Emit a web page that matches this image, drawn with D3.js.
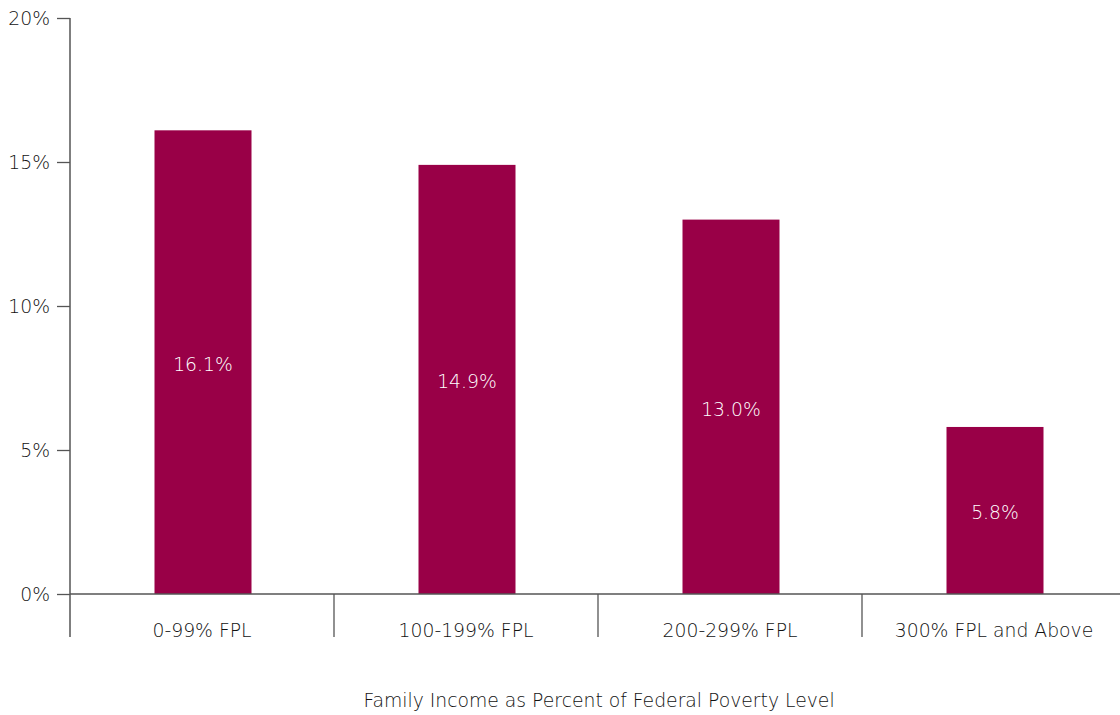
<!DOCTYPE html>
<html><head><meta charset="utf-8">
<script src="https://cdn.jsdelivr.net/npm/d3@7"></script>
<style>body{margin:0;background:#fff}text{font-family:"DejaVu Sans",sans-serif;font-weight:300}</style>
</head><body>
<svg id="c" width="1120" height="715"></svg>
<script>
const categories = ["0-99% FPL","100-199% FPL","200-299% FPL","300% FPL and Above"];
const values = [16.1, 14.9, 13.0, 5.8];
const valueLabels = ["16.1%","14.9%","13.0%","5.8%"];
const yTicks = [0,5,10,15,20];
const xTitle = "Family Income as Percent of Federal Poverty Level";

(function(){
const svg = d3.select("#c");
const mLeft = 70, mTop = 18, mBottom = 594, axisColor = "#555", textColor = "#111";
const x = d3.scaleBand().domain(categories).range([mLeft, mLeft + 264*4]).padding(0);
const y = d3.scaleLinear().domain([0,20]).range([mBottom, mTop]);
const barW = 97;
const fs = "18.8px";

svg.selectAll("rect.bar").data(values).enter().append("rect")
  .attr("x", (d,i) => x(categories[i]) + x.bandwidth()/2 - barW/2 + 1)
  .attr("width", barW)
  .attr("y", d => y(d))
  .attr("height", d => y(0) - y(d))
  .attr("fill", "#990047");

svg.selectAll("text.val").data(values).enter().append("text")
  .attr("x", (d,i) => x(categories[i]) + x.bandwidth()/2 + 1)
  .attr("y", d => (y(d) + y(0))/2 + 9)
  .attr("text-anchor","middle").attr("fill","#fff")
  .style("font-size",fs)
  .text((d,i) => valueLabels[i]);

const ya = svg.append("g").attr("transform",`translate(${mLeft},0)`)
  .call(d3.axisLeft(y).tickValues(yTicks).tickFormat(d => d + "%").tickSize(13).tickSizeOuter(0));
ya.select(".domain").remove();
ya.selectAll("line").attr("stroke", axisColor).attr("stroke-width",1.3);
ya.selectAll("text").attr("fill", textColor).style("font-size",fs).attr("dx","-4");
svg.append("line").attr("x1",mLeft).attr("x2",mLeft).attr("y1",mTop).attr("y2",637)
  .attr("stroke",axisColor).attr("stroke-width",1.5);

svg.append("line").attr("x1",mLeft).attr("x2",1120).attr("y1",mBottom).attr("y2",mBottom)
  .attr("stroke",axisColor).attr("stroke-width",1.5);
svg.selectAll("line.sep").data(categories.slice(1)).enter().append("line")
  .attr("x1", d => x(d)).attr("x2", d => x(d))
  .attr("y1", mBottom).attr("y2", 637)
  .attr("stroke", axisColor).attr("stroke-width",1.3);
svg.selectAll("text.cat").data(categories).enter().append("text")
  .attr("x", d => x(d) + x.bandwidth()/2)
  .attr("y", 637)
  .attr("text-anchor","middle").attr("fill",textColor)
  .style("font-size",fs)
  .text(d => d);

svg.append("text").attr("x", 599).attr("y", 707).attr("text-anchor","middle")
  .attr("fill",textColor).style("font-size",fs).text(xTitle);
})();
</script>
</body></html>
